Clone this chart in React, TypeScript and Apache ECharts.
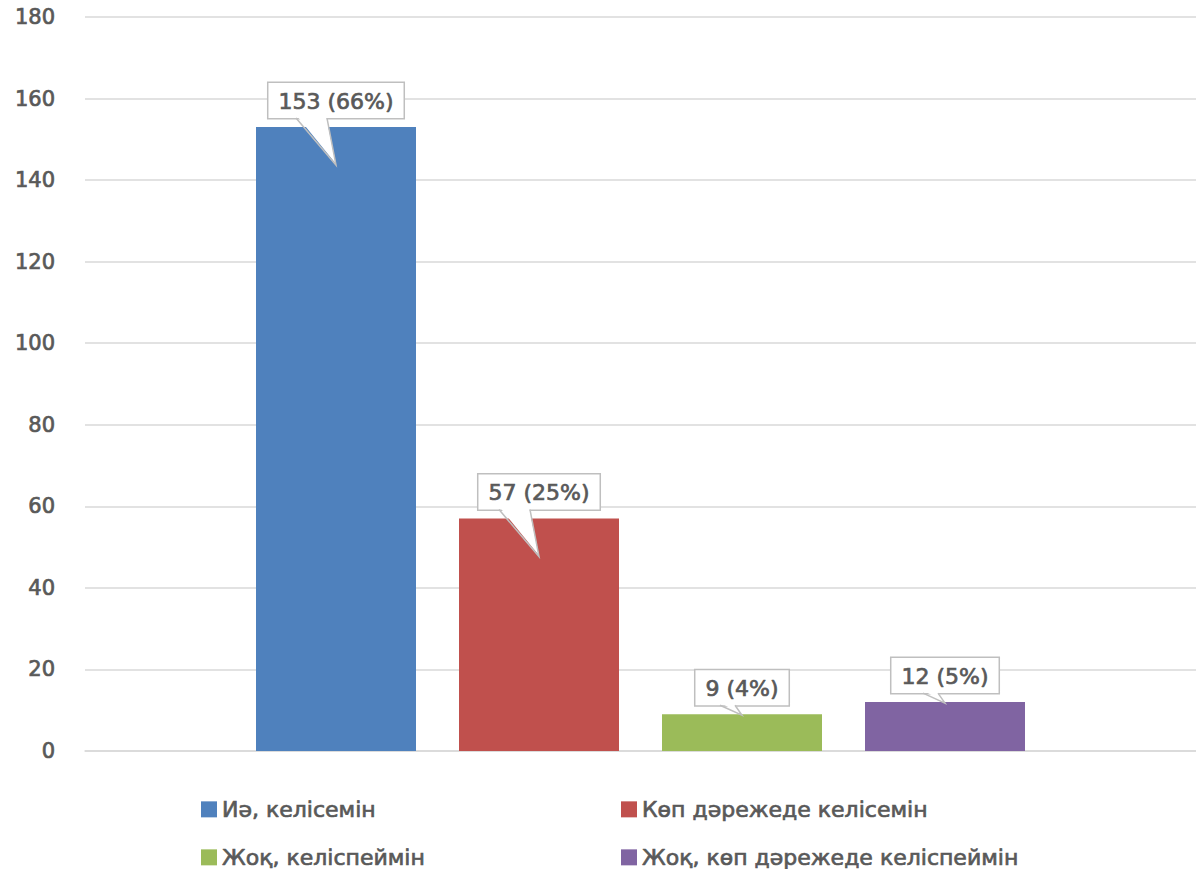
import React, { useEffect, useRef } from "react";
import * as echarts from "echarts";

const categories = ["Жауап"];
const seriesNames = [
  "Иә, келісемін",
  "Көп дәрежеде келісемін",
  "Жоқ, келіспеймін",
  "Жоқ, көп дәрежеде келіспеймін",
];
const seriesValues = [153, 57, 9, 12];
const seriesPercents = ["66%", "25%", "4%", "5%"];
const seriesColors = ["#4F81BD", "#C0504D", "#9BBB59", "#8064A2"];
const yTicks = { min: 0, max: 180, interval: 20 };

const FONT = "'DejaVu Sans', sans-serif";
const TEXT = "#595959";
const EMB = 0.7;
const BAR_W = 160;
const BAR_GAP_PX = 43;

export default function App() {
  const ref = useRef<HTMLDivElement>(null);
  useEffect(() => {
    const chart = echarts.init(ref.current!, null, { renderer: "svg" });
    const n = seriesValues.length;
    const barSeries = seriesNames.map((name, i) => ({
      name,
      type: "bar",
      data: [seriesValues[i]],
      barWidth: BAR_W,
      barGap: (BAR_GAP_PX / BAR_W) * 100 + "%",
      itemStyle: { color: seriesColors[i] },
    }));
    const calloutData = seriesValues.map((v, i) => [0, v, i]);
    const calloutSeries = {
      type: "custom",
      name: "callouts",
      z: 10,
      data: calloutData,
      encode: { x: 0, y: 1 },
      renderItem: (params: any, api: any) => {
        const idx = api.value(2);
        const val = api.value(1);
        const [cx0, top] = api.coord([0, val]);
        const [, base] = api.coord([0, 0]);
        const cx = cx0 + (idx - (n - 1) / 2) * (BAR_W + BAR_GAP_PX);
        const barH = base - top;
        const boxBottom = top - 9;
        const shortBar = barH < 50;
        const tipY = shortBar ? top + 1 : top + 38;
        const bl = shortBar ? cx - 22 : cx - 40;
        const br = shortBar ? cx - 7 : cx - 9;
        const label = `${seriesValues[idx]} (${seriesPercents[idx]})`;
        return {
          type: "group",
          children: [
            {
              type: "text",
              x: cx,
              y: boxBottom,
              style: {
                text: label,
                align: "center",
                verticalAlign: "bottom",
                font: `22px ${FONT}`,
                fill: TEXT,
                stroke: TEXT,
                lineWidth: EMB,
                backgroundColor: "#ffffff",
                borderColor: "#BFBFBF",
                borderWidth: 1.5,
                padding: [7, 10, 6, 10],
              },
            },
            {
              type: "polygon",
              shape: { points: [[bl + 1, boxBottom - 2], [br - 1, boxBottom - 2], [cx, tipY - 1]] },
              style: { fill: "#ffffff", stroke: null },
            },
            {
              type: "polyline",
              shape: { points: [[bl, boxBottom], [cx, tipY], [br, boxBottom]] },
              style: { stroke: "#BFBFBF", lineWidth: 1.5, fill: null },
            },
          ],
        };
      },
    };
    const legendPos = [
      { left: 196, top: 793 },
      { left: 616, top: 793 },
      { left: 196, top: 841 },
      { left: 616, top: 841 },
    ];
    chart.setOption({
      animation: false,
      grid: { left: 85, right: 0, top: 17, bottom: 118 },
      xAxis: {
        type: "category",
        data: categories,
        axisLine: { show: true, lineStyle: { color: "#D9D9D9", width: 1.5 } },
        axisTick: { show: false },
        axisLabel: { show: false },
      },
      yAxis: {
        type: "value",
        min: yTicks.min,
        max: yTicks.max,
        interval: yTicks.interval,
        axisLine: { show: false },
        axisTick: { show: false },
        axisLabel: {
          color: TEXT,
          fontSize: 21,
          fontFamily: FONT,
          margin: 30,
          textBorderColor: TEXT,
          textBorderWidth: EMB,
        },
        splitLine: { lineStyle: { color: "#D9D9D9", width: 1.5 } },
      },
      legend: seriesNames.map((name, i) => ({
        data: [name],
        left: legendPos[i].left,
        top: legendPos[i].top,
        icon: "rect",
        itemWidth: 16,
        itemHeight: 16,
        textStyle: {
          color: TEXT,
          fontSize: 22,
          fontFamily: FONT,
          lineHeight: 18,
          textBorderColor: TEXT,
          textBorderWidth: EMB,
        },
        selectedMode: false,
      })),
      series: [...barSeries, calloutSeries],
    });
    return () => chart.dispose();
  }, []);
  return <div ref={ref} style={{ width: 1196, height: 869, position: "absolute", left: 0, top: 0 }} />;
}
